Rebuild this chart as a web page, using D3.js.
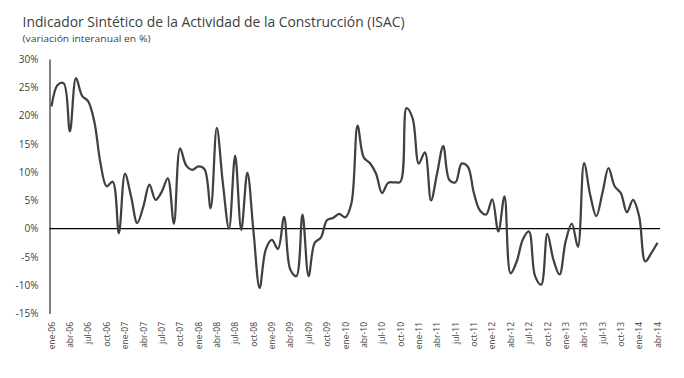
<!DOCTYPE html>
<html>
<head>
<meta charset="utf-8">
<script src="https://cdn.jsdelivr.net/npm/d3@7"></script>
<style>
  body { margin: 0; background: #fff; }
  text { font-family: "Open Sans", "Liberation Sans", sans-serif; fill: #404040; }
</style>
</head>
<body>
<div id="chart"></div>
<script>
const title = 'Indicador Sintético de la Actividad de la Construcción (ISAC)';
const subtitle = '(variación interanual en %)';

const monthNames = ['ene', 'feb', 'mar', 'abr', 'may', 'jun', 'jul', 'ago', 'sep', 'oct', 'nov', 'dic'];
const years = ['06', '07', '08', '09', '10', '11', '12', '13', '14'];

// ISAC, variacion interanual (%), ene-06 .. abr-14
const isac = [
  21.6, 25.4, 25.7, 17.2, 26.6, 23.5, 22.5, 18.9, 11.6, 7.5, 8.3, -0.8,
  9.7, 5.7, 1.0, 3.9, 7.8, 5.1, 6.5, 8.9, 0.9, 14.2, 11.2, 10.4,
  11.0, 10.5, 3.6, 17.8, 8.0, 0.0, 12.9, -0.2, 9.9, -0.5, -10.5, -3.7,
  -2.0, -3.6, 2.1, -7.2, -8.4, 2.5, -8.4, -2.5, -1.6, 1.5, 1.9, 2.6,
  2.0, 4.5, 18.2, 12.6, 11.6, 9.8, 6.3, 8.1, 8.2, 8.3, 21.3, 19.5,
  11.5, 13.5, 5.0, 9.8, 14.6, 8.6, 8.2, 11.5, 11.0, 6.3, 3.2, 2.5,
  5.2, -0.5, 5.7, -7.9, -5.8, -1.9, -0.5, -8.4, -9.9, -0.9, -5.5, -8.1,
  -2.2, 0.9, -3.2, 11.6, 6.0, 2.2, 6.3, 10.7, 7.5, 6.3, 2.9, 5.1,
  2.2, -5.8, -4.3, -2.5
];

const yTicks = [-15, -10, -5, 0, 5, 10, 15, 20, 25, 30];

const categories = [];
years.forEach(y => monthNames.forEach(m => categories.push(m + '-' + y)));
categories.length = isac.length;

const data = categories.map((c, i) => ({ cat: c, value: isac[i] }));

const width = 684, height = 378;
const margin = { top: 59, right: 26, bottom: 64, left: 50 };

const svg = d3.select('#chart').append('svg')
  .attr('width', width)
  .attr('height', height);

svg.append('text')
  .attr('x', 22.5)
  .attr('y', 26.5)
  .attr('font-size', 15)
  .attr('textLength', 382)
  .attr('lengthAdjust', 'spacingAndGlyphs')
  .text(title);

svg.append('text')
  .attr('x', 22.5)
  .attr('y', 41.5)
  .attr('font-size', 9.5)
  .attr('textLength', 128)
  .attr('lengthAdjust', 'spacingAndGlyphs')
  .text(subtitle);

const x = d3.scalePoint()
  .domain(categories)
  .range([51.5, 657.5]);

const y = d3.scaleLinear()
  .domain([-15, 30])
  .range([height - margin.bottom - 0.5, margin.top]);

// y axis
const yAxis = svg.append('g')
  .attr('transform', 'translate(' + (margin.left - 0.5) + ',0)')
  .call(d3.axisLeft(y).tickValues(yTicks).tickSize(0).tickPadding(11)
    .tickFormat(d => d + '%'));
yAxis.select('.domain').attr('stroke', '#000').attr('stroke-width', 1);
yAxis.selectAll('text').attr('font-size', 10).attr('fill', '#404040')
  .style('font-family', '"Open Sans", "Liberation Sans", sans-serif');

// zero line
svg.append('line')
  .attr('x1', margin.left - 0.5)
  .attr('x2', 660)
  .attr('y1', y(0))
  .attr('y2', y(0))
  .attr('stroke', '#000')
  .attr('stroke-width', 1.3);

// x labels (every 3 months)
const xAxis = svg.append('g')
  .attr('transform', 'translate(0,' + (height - margin.bottom + 8) + ')')
  .call(d3.axisBottom(x).tickValues(categories.filter((d, i) => i % 3 === 0)).tickSize(0));
xAxis.select('.domain').remove();
xAxis.selectAll('text')
  .attr('font-size', 8.5)
  .attr('fill', '#404040')
  .style('font-family', '"Open Sans", "Liberation Sans", sans-serif')
  .attr('text-anchor', 'end')
  .attr('transform', 'rotate(-90)')
  .attr('x', 0)
  .attr('y', 0)
  .attr('dx', 0)
  .attr('dy', '0.32em');

// line
const line = d3.line()
  .x(d => x(d.cat))
  .y(d => y(d.value))
  .curve(d3.curveCatmullRom.alpha(0.5));

svg.append('path')
  .datum(data)
  .attr('fill', 'none')
  .attr('stroke', '#404040')
  .attr('stroke-width', 2.25)
  .attr('stroke-linejoin', 'round')
  .attr('d', line);
</script>
</body>
</html>
